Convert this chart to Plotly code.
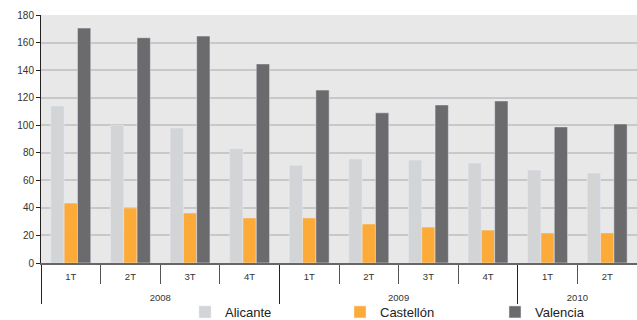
import plotly.graph_objects as go

years = ["2008", "2008", "2008", "2008", "2009", "2009", "2009", "2009", "2010", "2010"]
quarters = ["1T", "2T", "3T", "4T", "1T", "2T", "3T", "4T", "1T", "2T"]
alicante = [114, 100, 98, 83, 71, 75.5, 74.7, 72.6, 67.5, 65.3]
castellon = [43.5, 40, 36.3, 32.7, 32.7, 28.3, 26.1, 23.9, 21.8, 21.8]
valencia = [170.5, 163.5, 164.7, 144.5, 125.5, 109, 114.7, 117.6, 98.8, 100.9]
y_ticks = [0, 20, 40, 60, 80, 100, 120, 140, 160, 180]

# quarter labels get an empty second line so the year row sits lower
x = [years, [q + "<br>\u00a0" for q in quarters]]
fig = go.Figure()
fig.add_trace(go.Bar(x=x, y=alicante, name="Alicante", marker_color="#d3d4d6"))
fig.add_trace(go.Bar(x=x, y=castellon, name="Castellón", marker_color="#fcab38"))
fig.add_trace(go.Bar(x=x, y=valencia, name="Valencia", marker_color="#6b6b6d"))

fig.update_layout(
    width=637, height=320,
    margin=dict(l=41, r=0, t=15, b=57),
    paper_bgcolor="white",
    plot_bgcolor="#e8e8e8",
    barmode="group",
    bargap=0.33,
    bargroupgap=0,
    font=dict(family="Liberation Sans, Arial, sans-serif", size=10, color="#333333"),
    showlegend=True,
    legend=dict(
        orientation="h",
        xref="container", yref="container",
        x=185 / 637, xanchor="left",
        y=8 / 320, yanchor="middle",
        font=dict(size=13, color="#222222"),
        entrywidth=110, entrywidthmode="pixels",
        itemwidth=30,
        borderwidth=0,
        bgcolor="rgba(0,0,0,0)",
    ),
)
fig.update_yaxes(
    range=[0, 180],
    tickvals=y_ticks,
    showgrid=True, gridcolor="#c8c8c8", gridwidth=1.5,
    showline=True, linecolor="#222222", linewidth=1,
    ticks="outside", ticklen=4, tickcolor="#222222",
    zeroline=False,
    automargin=False,
)
fig.update_xaxes(
    type="multicategory",
    showline=True, linecolor="#666666", linewidth=1.5,
    ticks="outside", ticklen=19, tickcolor="#555555",
    ticklabelstandoff=4,
    tickfont=dict(size=9.5),
    showdividers=True, dividercolor="#222222", dividerwidth=1,
    showgrid=False,
    automargin=False,
)

fig.write_html("out.html")
